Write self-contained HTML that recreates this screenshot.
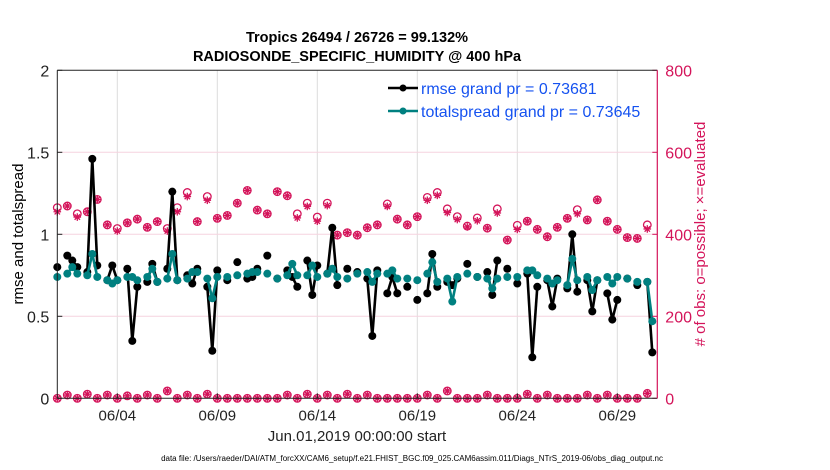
<!DOCTYPE html>
<html><head><meta charset="utf-8"><style>
body{margin:0;background:#fff;}
svg{display:block;font-family:"Liberation Sans",Arial,sans-serif;}
</style></head><body>
<svg id="chart" width="830" height="470" xmlns="http://www.w3.org/2000/svg">
<rect x="0" y="0" width="830" height="470" fill="#fff"/>
<g id="grid"></g>
<g id="marks"></g>
<g id="axes"></g>
<text x="357" y="42" text-anchor="middle" font-size="14.5" font-weight="bold">Tropics 26494 / 26726 = 99.132%</text>
<text x="357" y="61" text-anchor="middle" font-size="14.5" font-weight="bold">RADIOSONDE_SPECIFIC_HUMIDITY @ 400 hPa</text>
<text transform="translate(23,234) rotate(-90)" text-anchor="middle" font-size="15">rmse and totalspread</text>
<text transform="translate(705,234) rotate(-90)" text-anchor="middle" font-size="15" fill="#d4145a"># of obs: o=possible; ×=evaluated</text>
<text x="357" y="441" text-anchor="middle" font-size="15" fill="#222">Jun.01,2019 00:00:00 start</text>
<text x="412" y="461" text-anchor="middle" font-size="8" fill="#000">data file: /Users/raeder/DAI/ATM_forcXX/CAM6_setup/f.e21.FHIST_BGC.f09_025.CAM6assim.011/Diags_NTrS_2019-06/obs_diag_output.nc</text>
<g>
<line x1="388" y1="88" x2="418" y2="88" stroke="#000" stroke-width="2.5"/>
<circle cx="403" cy="88" r="3.5" fill="#000"/>
<text x="421" y="94" font-size="16" fill="#1552f0">rmse grand pr = 0.73681</text>
<line x1="388" y1="111" x2="418" y2="111" stroke="#008080" stroke-width="2.5"/>
<circle cx="403" cy="111" r="3.5" fill="#008080"/>
<text x="421" y="117" font-size="16" fill="#1552f0">totalspread grand pr = 0.73645</text>
</g>
</svg>
<script>
const times=[0,0.5,0.75,1,1.5,1.75,2,2.5,2.75,3,3.5,3.75,4,4.5,4.75,5,5.5,5.75,6,6.5,6.75,7,7.5,7.75,8,8.5,9,9.5,9.75,10,10.5,11,11.5,11.75,12,12.5,12.75,13,13.5,13.75,14,14.5,15,15.5,15.75,16,16.5,16.75,17,17.5,18,18.5,18.75,19,19.5,19.75,20,20.5,21,21.5,21.75,22,22.5,23,23.5,23.75,24,24.5,24.75,25,25.5,25.75,26,26.5,26.75,27,27.5,27.75,28,28.5,29,29.5,29.75];
const rmse=[0.80,0.87,0.84,0.80,0.77,1.46,0.81,0.72,0.81,0.72,0.79,0.35,0.68,0.71,0.82,0.71,0.79,1.26,0.72,0.75,0.70,0.79,0.68,0.29,0.78,0.72,0.83,0.73,0.74,0.79,0.87,0.73,0.78,0.74,0.68,0.84,0.63,0.81,0.76,1.04,0.69,0.79,0.77,0.73,0.38,0.78,0.64,0.74,0.64,0.68,0.60,0.64,0.88,0.68,0.71,0.69,0.73,0.82,0.74,0.77,0.63,0.84,0.79,0.70,0.76,0.25,0.68,0.72,0.56,0.73,0.67,1.00,0.65,0.72,0.53,0.72,0.64,0.48,0.60,0.73,0.69,0.71,0.28];
const spread=[0.74,0.76,0.80,0.76,0.75,0.88,0.74,0.72,0.70,0.72,0.74,0.74,0.72,0.74,0.79,0.71,0.73,0.88,0.72,0.73,0.77,0.77,0.73,0.61,0.74,0.74,0.75,0.76,0.77,0.77,0.76,0.73,0.75,0.82,0.75,0.75,0.81,0.74,0.76,0.79,0.74,0.73,0.76,0.77,0.71,0.76,0.76,0.78,0.73,0.73,0.72,0.76,0.83,0.71,0.73,0.59,0.74,0.76,0.74,0.73,0.67,0.73,0.74,0.74,0.78,0.78,0.75,0.73,0.70,0.72,0.69,0.85,0.72,0.74,0.66,0.72,0.74,0.70,0.74,0.73,0.71,0.71,0.47];
const obsTimes=[0,0.5,1,1.5,2,2.5,3,3.5,4,4.5,5,5.5,6,6.5,7,7.5,8,8.5,9,9.5,10,10.5,11,11.5,12,12.5,13,13.5,14,14.5,15,15.5,16,16.5,17,17.5,18,18.5,19,19.5,20,20.5,21,21.5,22,22.5,23,23.5,24,24.5,25,25.5,26,26.5,27,27.5,28,28.5,29,29.5];
const evaluated=[455,469,442,455,485,423,408,428,437,417,431,408,455,492,431,483,439,446,476,507,459,450,504,494,440,468,432,470,398,404,398,416,423,468,437,423,443,483,495,453,436,418,433,415,452,386,412,432,412,394,417,439,450,435,484,432,412,392,390,413];
const possible=[465,469,450,455,485,423,414,428,437,417,431,414,465,502,431,492,439,446,476,507,459,450,504,494,450,476,442,476,398,404,398,416,423,474,437,423,443,490,502,462,443,420,440,415,462,386,422,432,412,394,417,439,460,435,484,432,412,392,390,423];
const lowEvaluated=[0,8,0,10,0,8,0,6,0,8,0,18,0,8,0,10,0,0,0,0,0,0,0,8,0,10,0,8,0,10,0,8,0,0,0,0,0,8,0,18,0,0,0,8,0,0,0,10,0,8,0,0,0,8,0,8,0,0,0,12];
const leftTicks=[0,0.5,1,1.5,2];
const leftTickLabels=["0","0.5","1","1.5","2"];
const rightTicks=[0,200,400,600,800];
const xTicks=[3,8,13,18,23,28];
const xTickLabels=["06/04","06/09","06/14","06/19","06/24","06/29"];

const X0=57.3,X1=657.3,Y0=398.3,Y1=70.3;
const xs=d=>X0+(X1-X0)*d/30;
const ys=v=>Y0-(Y0-Y1)*v/2;
const yr=n=>Y0-(Y0-Y1)*n/800;
const NS="http://www.w3.org/2000/svg";
function mk(tag,attrs,parent){const e=document.createElementNS(NS,tag);for(const k in attrs)e.setAttribute(k,attrs[k]);parent.appendChild(e);return e;}
const grid=document.getElementById('grid'),marks=document.getElementById('marks'),axes=document.getElementById('axes');

xTicks.forEach((t,i)=>{
  const g=mk('line',{x1:xs(t),x2:xs(t),y1:Y1,y2:Y0,stroke:'#dcdcdc','stroke-width':1},grid);
  
  
  const tk=mk('line',{x1:xs(t),x2:xs(t),y1:Y0,y2:Y0-5,stroke:'#222'},axes);
  
  
  const tt=mk('text',{x:xs(t),y:Y0+22,'text-anchor':'middle','font-size':15,fill:'#222'},axes);
  tt.textContent=xTickLabels[i];
  
  
});
leftTicks.forEach((v,i)=>{
  if(v>0&&v<2){const g=mk('line',{x1:X0,x2:X1,y1:ys(v),y2:ys(v),stroke:'#f6d3df','stroke-width':1},grid);
  
  }
  const tk=mk('line',{x1:X0,x2:X0+5,y1:ys(v),y2:ys(v),stroke:'#222'},axes);
  
  
  const tt=mk('text',{x:X0-8,y:ys(v)+6,'text-anchor':'end','font-size':16,fill:'#222'},axes);
  tt.textContent=leftTickLabels[i];
  
  
});
rightTicks.forEach(n=>{
  const tk=mk('line',{x1:X1,x2:X1-5,y1:yr(n),y2:yr(n),stroke:'#d4145a'},axes);
  
  
  const tt=mk('text',{x:X1+8,y:yr(n)+6,'font-size':16,fill:'#d4145a'},axes);
  tt.textContent=String(n);
  
  
});
let ax=mk('line',{x1:X0,x2:X0,y1:Y1,y2:Y0,stroke:'#222','stroke-width':1},axes);


ax=mk('line',{x1:X0,x2:X1,y1:Y0,y2:Y0,stroke:'#222','stroke-width':1},axes);


ax=mk('line',{x1:X0,x2:X1,y1:Y1,y2:Y1,stroke:'#222','stroke-width':1},axes);


ax=mk('line',{x1:X1,x2:X1,y1:Y1,y2:Y0,stroke:'#d4145a','stroke-width':1.2},axes);



function star(cx,cy,name){
  const g=mk('g',{stroke:'#d4145a','stroke-width':1.3},marks);
  
  
  const r=3.8;
  for(let a=0;a<4;a++){const t=a*Math.PI/4;mk('line',{x1:cx-r*Math.cos(t),y1:cy-r*Math.sin(t),x2:cx+r*Math.cos(t),y2:cy+r*Math.sin(t)},g);}
}
function ring(cx,cy,name){
  const c=mk('circle',{cx:cx,cy:cy,r:3.8,fill:'none',stroke:'#d4145a','stroke-width':1.3},marks);
  
  
}
obsTimes.forEach((t,i)=>{
  ring(xs(t),yr(possible[i]),'possible-marker');
  star(xs(t),yr(evaluated[i]),'evaluated-marker');
  ring(xs(t),yr(lowEvaluated[i]),'possible-marker-low');
  star(xs(t),yr(lowEvaluated[i]),'evaluated-marker-low');
});
function series(vals,color,name){
  for(let i=1;i<times.length;i++){
    if(Math.abs(times[i]-times[i-1]-0.25)<0.01){
      const l=mk('line',{x1:xs(times[i-1]),y1:ys(vals[i-1]),x2:xs(times[i]),y2:ys(vals[i]),stroke:color,'stroke-width':2.6},marks);
      
      
    }
  }
  times.forEach((t,i)=>{
    const c=mk('circle',{cx:xs(t),cy:ys(vals[i]),r:4,fill:color},marks);
    
    
  });
}
series(rmse,'#000','rmse');
series(spread,'#008080','totalspread');
</script>
</body></html>
